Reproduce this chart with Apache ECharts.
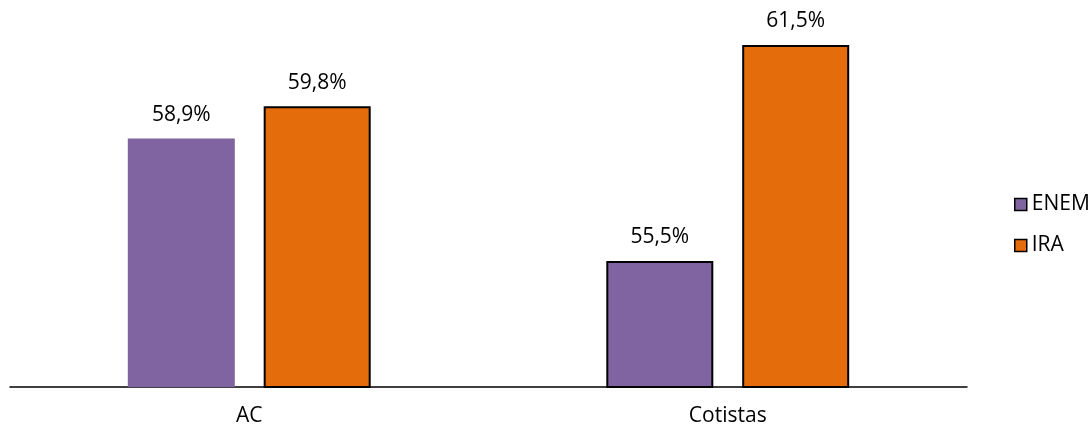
<!DOCTYPE html>
<html>
<head>
<meta charset="utf-8">
<script src="https://cdn.jsdelivr.net/npm/echarts@6/dist/echarts.min.js"></script>
<style>
  html, body { margin: 0; padding: 0; background: #fff; }
  #chart { width: 1091px; height: 430px; }
</style>
</head>
<body>
<div id="chart"></div>
<script>
const categories = ['AC', 'Cotistas'];
const enemValues = [58.9, 55.5];
const iraValues = [59.8, 61.5];

const FONT = '"Open Sans", "Liberation Sans", sans-serif';
const PURPLE = '#8064A2';
const ORANGE = '#E46C0A';

const fmt = p => p.value.toFixed(1).replace('.', ',') + '%';

const labelStyle = {
  show: true,
  position: 'top',
  distance: 13,
  formatter: fmt,
  color: '#000',
  fontSize: 21,
  fontFamily: FONT
};

const chart = echarts.init(document.getElementById('chart'));
chart.setOption({
  animation: false,
  grid: { left: 10, right: 124, top: 27, bottom: 43 },
  legend: {
    orient: 'vertical',
    left: 1009,
    top: 189,
    itemWidth: 12,
    itemHeight: 12,
    itemGap: 20,
    icon: 'rect',
    textStyle: { fontSize: 21, fontFamily: FONT, color: '#000', padding: [0, 0, 0, 0] },
    data: [
      { name: 'ENEM', itemStyle: { borderColor: '#000', borderWidth: 1.5 } },
      { name: 'IRA', itemStyle: { borderColor: '#000', borderWidth: 1.5 } }
    ]
  },
  xAxis: {
    type: 'category',
    data: categories,
    axisTick: { show: false },
    axisLine: { lineStyle: { color: '#000', width: 1.5 } },
    axisLabel: { color: '#000', fontSize: 21, fontFamily: FONT, margin: 19 }
  },
  yAxis: {
    type: 'value',
    min: 52,
    max: 62,
    show: false,
    splitLine: { show: false }
  },
  series: [
    {
      name: 'ENEM',
      type: 'bar',
      barWidth: 107,
      barGap: '27%',
      data: enemValues.map((v, i) => ({
        value: v,
        itemStyle: i === 0
          ? { color: PURPLE, borderWidth: 0 }
          : { color: PURPLE, borderColor: '#000', borderWidth: 2 }
      })),
      itemStyle: { color: PURPLE },
      label: labelStyle
    },
    {
      name: 'IRA',
      type: 'bar',
      barWidth: 107,
      data: iraValues,
      itemStyle: { color: ORANGE, borderColor: '#000', borderWidth: 2 },
      label: labelStyle
    }
  ]
});
</script>
</body>
</html>
